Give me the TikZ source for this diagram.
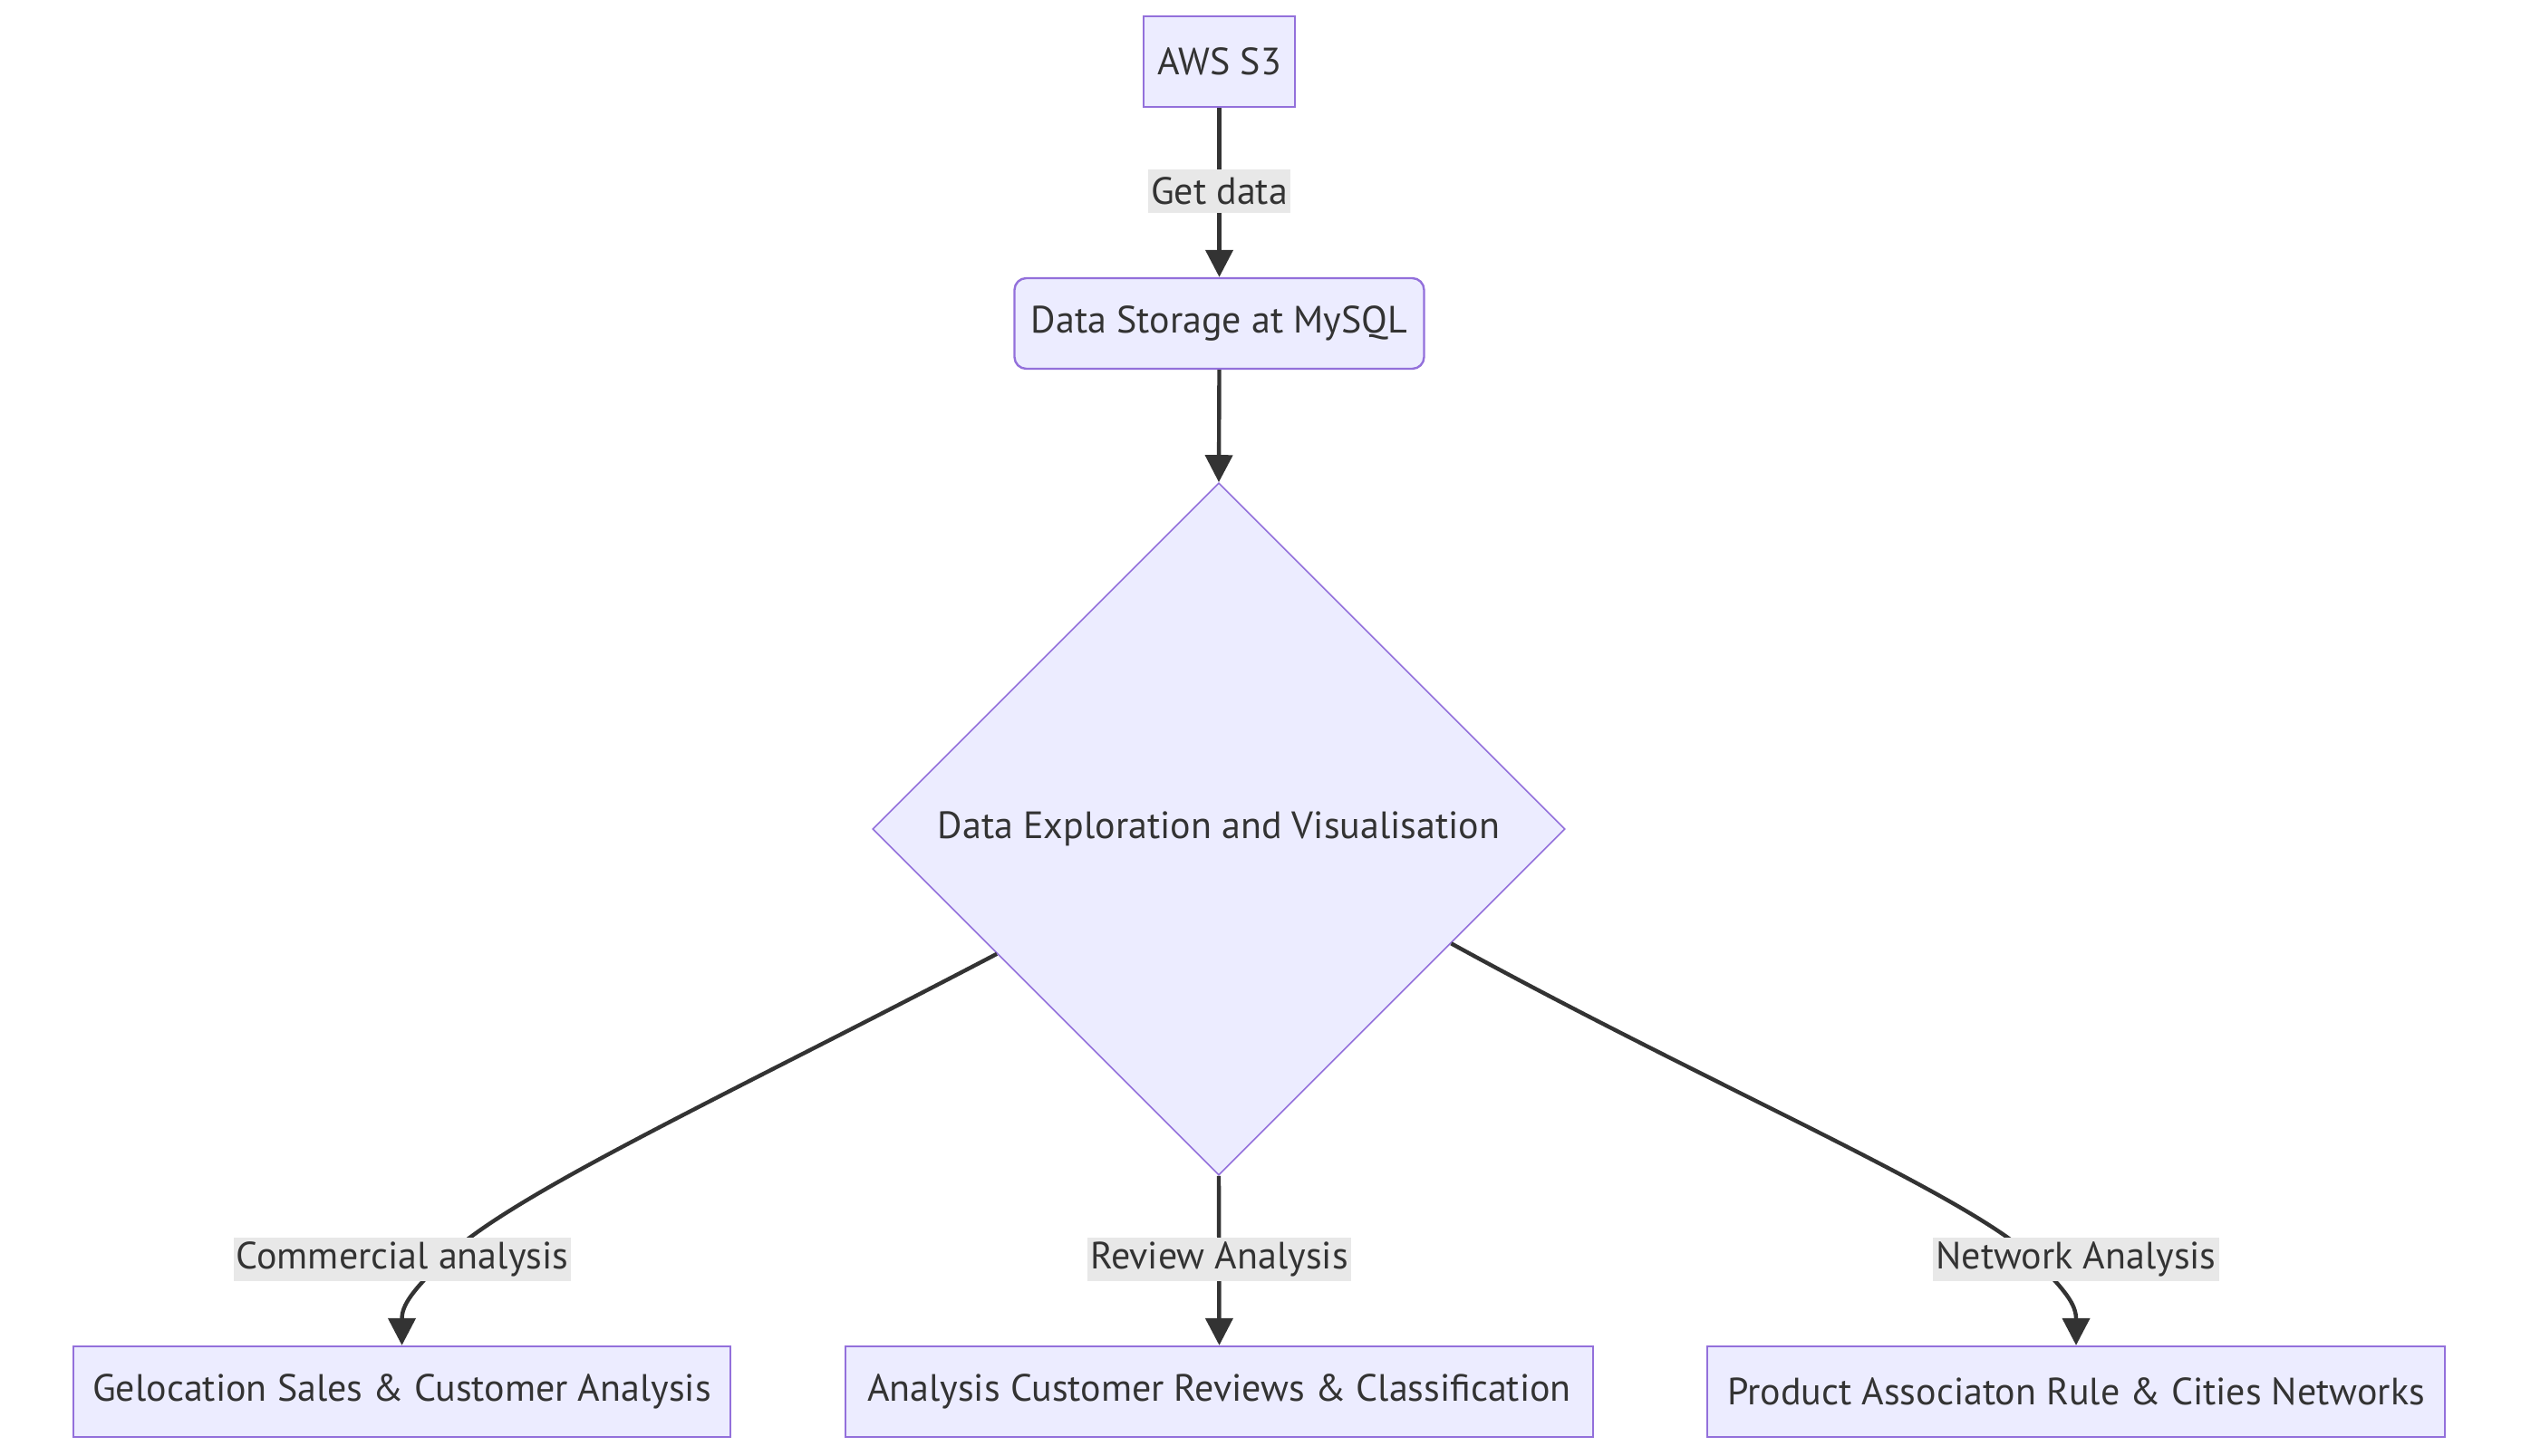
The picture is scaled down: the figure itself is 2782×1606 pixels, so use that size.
\documentclass[tikz,border=0pt]{standalone}
\usepackage{fontspec}
\setmainfont{PT Sans}
\usetikzlibrary{shapes.geometric,arrows.meta,calc}
\definecolor{nodefill}{HTML}{ECECFF}
\definecolor{nodeline}{HTML}{9370DB}
\definecolor{edgecol}{HTML}{333333}
\definecolor{labelbg}{HTML}{E8E8E8}
\newcommand{\dfont}{\fontsize{21}{25}\selectfont}
\begin{document}
\begin{tikzpicture}[x=0.5pt,y=-0.5pt,
  box/.style={draw=nodeline,fill=nodefill,line width=1.2pt,text=edgecol,minimum height=50pt,inner sep=0pt,font=\dfont},
  decision/.style={diamond,draw=nodeline,fill=nodefill,line width=0.8pt,minimum width=382pt,minimum height=382pt,inner sep=0pt,text=edgecol,font=\dfont},
  elabel/.style={fill=labelbg,text=edgecol,inner xsep=1.5pt,inner ysep=0pt,minimum height=24pt,font=\dfont},
  edge/.style={draw=edgecol,line width=2.2pt,-{Triangle[length=15pt,width=15pt]}}
]
\useasboundingbox (0,0) rectangle (2782,1606);
\fill[white] (0,0) rectangle (2782,1606);
% nodes
\node[box,minimum width=83.5pt] (aws) at (1345.5,68) {AWS S3};
\node[box,rounded corners=6.5pt,minimum width=226pt] (mysql) at (1345.5,357) {Data Storage at MySQL};
\node[decision] (dia) at (1345,915) {Data Exploration and Visualisation};
\node[box,minimum width=362.5pt] (geo) at (443.5,1536) {Gelocation Sales \& Customer Analysis};
\node[box,minimum width=412.5pt] (rev) at (1345.5,1536) {Analysis Customer Reviews \& Classification};
\node[box,minimum width=407pt] (prod) at (2291,1536) {Product Associaton Rule \& Cities Networks};
% edges
\draw[edge] (aws.south) -- (mysql.north);
\draw[edge] (mysql.south) -- (dia.north);
\draw[edge] ($(dia.west)!0.36!(dia.south)$) .. controls (800,1210) and (560,1320) .. (490,1390) .. controls (455,1425) and (443.5,1440) .. (geo.north);
\draw[edge] (dia.south) -- (rev.north);
\draw[edge] ($(dia.east)!0.33!(dia.south)$) .. controls (1890,1200) and (2175,1320) .. (2245,1390) .. controls (2280,1425) and (2291,1440) .. (prod.north);
% edge labels
\node[elabel] (l1) at (1345.5,211) {Get data};
\node[elabel] (l2) at (444,1390) {Commercial analysis};
\node[elabel] (l3) at (1345.5,1390) {Review Analysis};
\node[elabel] (l4) at (2291,1390) {Network Analysis};
\end{tikzpicture}
\end{document}
